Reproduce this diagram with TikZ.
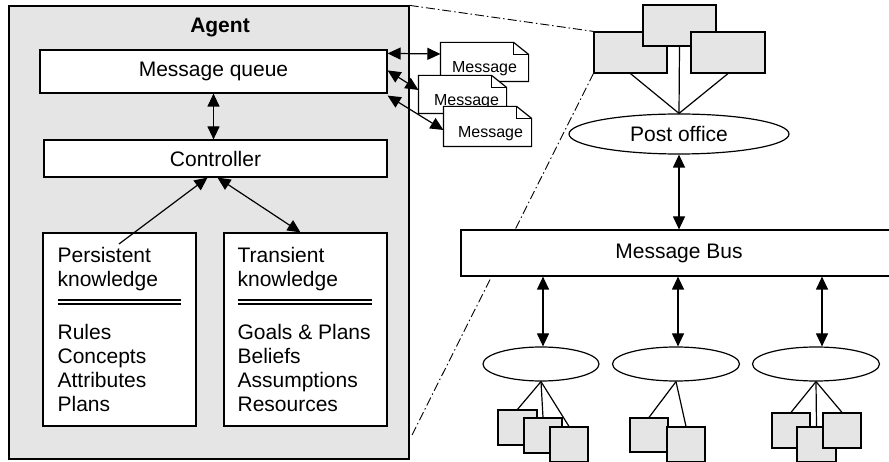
\documentclass[tikz,border=0pt]{standalone}
\usepackage{fontspec}
\setmainfont{Liberation Sans}
\usetikzlibrary{arrows.meta, positioning, shapes.geometric, fit, calc, backgrounds}
\definecolor{agentgray}{HTML}{E5E5E5}

\begin{document}
\begin{tikzpicture}[
  x=1pt, y=-1pt, line width=1.2pt,
  every node/.style={font=\fontsize{21}{24}\selectfont},
  plainbox/.style={rectangle, draw, fill=white, inner sep=0pt},
  graybox/.style={rectangle, draw, fill=agentgray, inner sep=0pt},
  office/.style={ellipse, draw, fill=white, inner sep=0pt},
  listtext/.style={anchor=north west, align=left, inner sep=0pt},
  msgtext/.style={font=\fontsize{16}{18}\selectfont, inner sep=0pt},
  dbl/.style={{Triangle[length=13pt,width=12pt]}-{Triangle[length=13pt,width=12pt]}},
  arr/.style={-{Triangle[length=13pt,width=12pt]}},
  zoomline/.style={line width=0.9pt, dash pattern=on 9pt off 3pt on 1.5pt off 3pt},
]
\useasboundingbox (0,0) rectangle (889,462);

% agent
\node[graybox, fit={(9,6) (409,459)}] (agent) {};
\node[font=\fontsize{21}{24}\selectfont\bfseries] (agtitle) at (220,28) {Agent};
\node[plainbox, fit={(40,50) (387,93)}] (mq) {};
\node (mqtxt) at (mq.center) {Message queue};
\node[plainbox, fit={(44,140) (387,177)}] (ctrl) {};
\node (ctrltxt) at (ctrl.center) {Controller};
\node[plainbox, fit={(43,233) (196,426)}] (pk) {};
\node[plainbox, fit={(224,233) (387,426)}] (tk) {};

\node[listtext] (pkhead) at (57,247) {Persistent\\knowledge};
\node[listtext] (pklist) at (57,324) {Rules\\Concepts\\Attributes\\Plans};
\node[listtext] (tkhead) at (237,247) {Transient\\knowledge};
\node[listtext] (tklist) at (237,324) {Goals \& Plans\\Beliefs\\Assumptions\\Resources};
\foreach \y in {300,304} {
  \draw (58,\y) -- (181,\y);
  \draw (238,\y) -- (372,\y);
}

\draw[dbl] (mq.south) -- (mq.south |- ctrl.north);
\coordinate (pkin) at (119,244);
\draw[arr] (pkin) -- ([xshift=-8pt]ctrl.south);
\draw[dbl] ([xshift=2pt]ctrl.south) -- ([xshift=-5pt]tk.north);

% messages
\foreach \n/\xa/\ya/\xb/\yb/\dx in {m1/441/43/528/81/0, m2/419/76/506/113/4, m3/444/107/531/146/3} {
  \node[fit={(\xa,\ya) (\xb,\yb)}, inner sep=0pt] (\n) {};
  \draw[fill=white] (\n.south west) -- (\n.north west) -- ([xshift=-15pt]\n.north east)
    -- ([yshift=-12pt]\n.north east) -- (\n.south east) -- cycle;
  \draw ([xshift=-15pt]\n.north east) |- ([yshift=-12pt]\n.north east);
  \node[msgtext] (\n txt) at ([shift={(\dx,7)}]\n.center) {Message};
}
\draw[dbl] ([yshift=-4pt]mq.north east) -- ([yshift=8pt]m1.west);
\draw[dbl] ([yshift=-21pt]mq.north east) -- ([yshift=4.5pt]m2.west);
\draw[dbl] ([yshift=-2pt]mq.south east) -- ([yshift=-3.5pt]m3.west);

% post office and bus
\node[graybox, fit={(594,32) (667,73)}] (r1) {};
\node[graybox, fit={(643,5) (716,46)}] (r2) {};
\node[graybox, fit={(691,32) (765,73)}] (r3) {};
\node[office, minimum width=220pt, minimum height=40pt] (po) at (679,134) {Post office};
\foreach \r in {r1,r2,r3}
  \draw (\r.south) -- (po.north);
\node[plainbox, fit={(461,230) (897,276)}] (bus) {};
\node (bustxt) at (bus.center) {Message Bus};
\draw[dbl] (po.south) -- (po.south |- bus.north);

\node[office, minimum width=116pt, minimum height=34pt] (e1) at (541,364) {};
\node[office, minimum width=127pt, minimum height=34pt] (e2) at (676,364) {};
\node[office, minimum width=127pt, minimum height=34pt] (e3) at (816,364) {};
\foreach \e/\dx in {e1/2, e2/2, e3/6}
  \draw[dbl] ($(\e.north |- bus.south)+(\dx,0)$) -- ($(\e.north)+(\dx,0)$);

\foreach \s/\xa/\ya/\xb/\yb in {s1/498/410/537/445, s2/524/418/562/453, s3/550/427/588/462,
    s4/630/418/668/452, s5/667/427/705/462,
    s6/772/413/810/448, s7/797/427/836/462, s8/823/413/861/448}
  \node[graybox, fit={(\xa,\ya) (\xb,\yb)}] (\s) {};
\foreach \e/\s in {e1/s1, e1/s2, e1/s3, e2/s4, e2/s5, e3/s6, e3/s7, e3/s8}
  \draw (\e.south) -- (\s.north);

% zoom lines
\begin{scope}[on background layer]
  \coordinate (zl) at (412,435);
  \draw[zoomline] (agent.north east) -- (r1.north west);
  \draw[zoomline] (zl) -- (r1.south west);
\end{scope}
\end{tikzpicture}
\end{document}
